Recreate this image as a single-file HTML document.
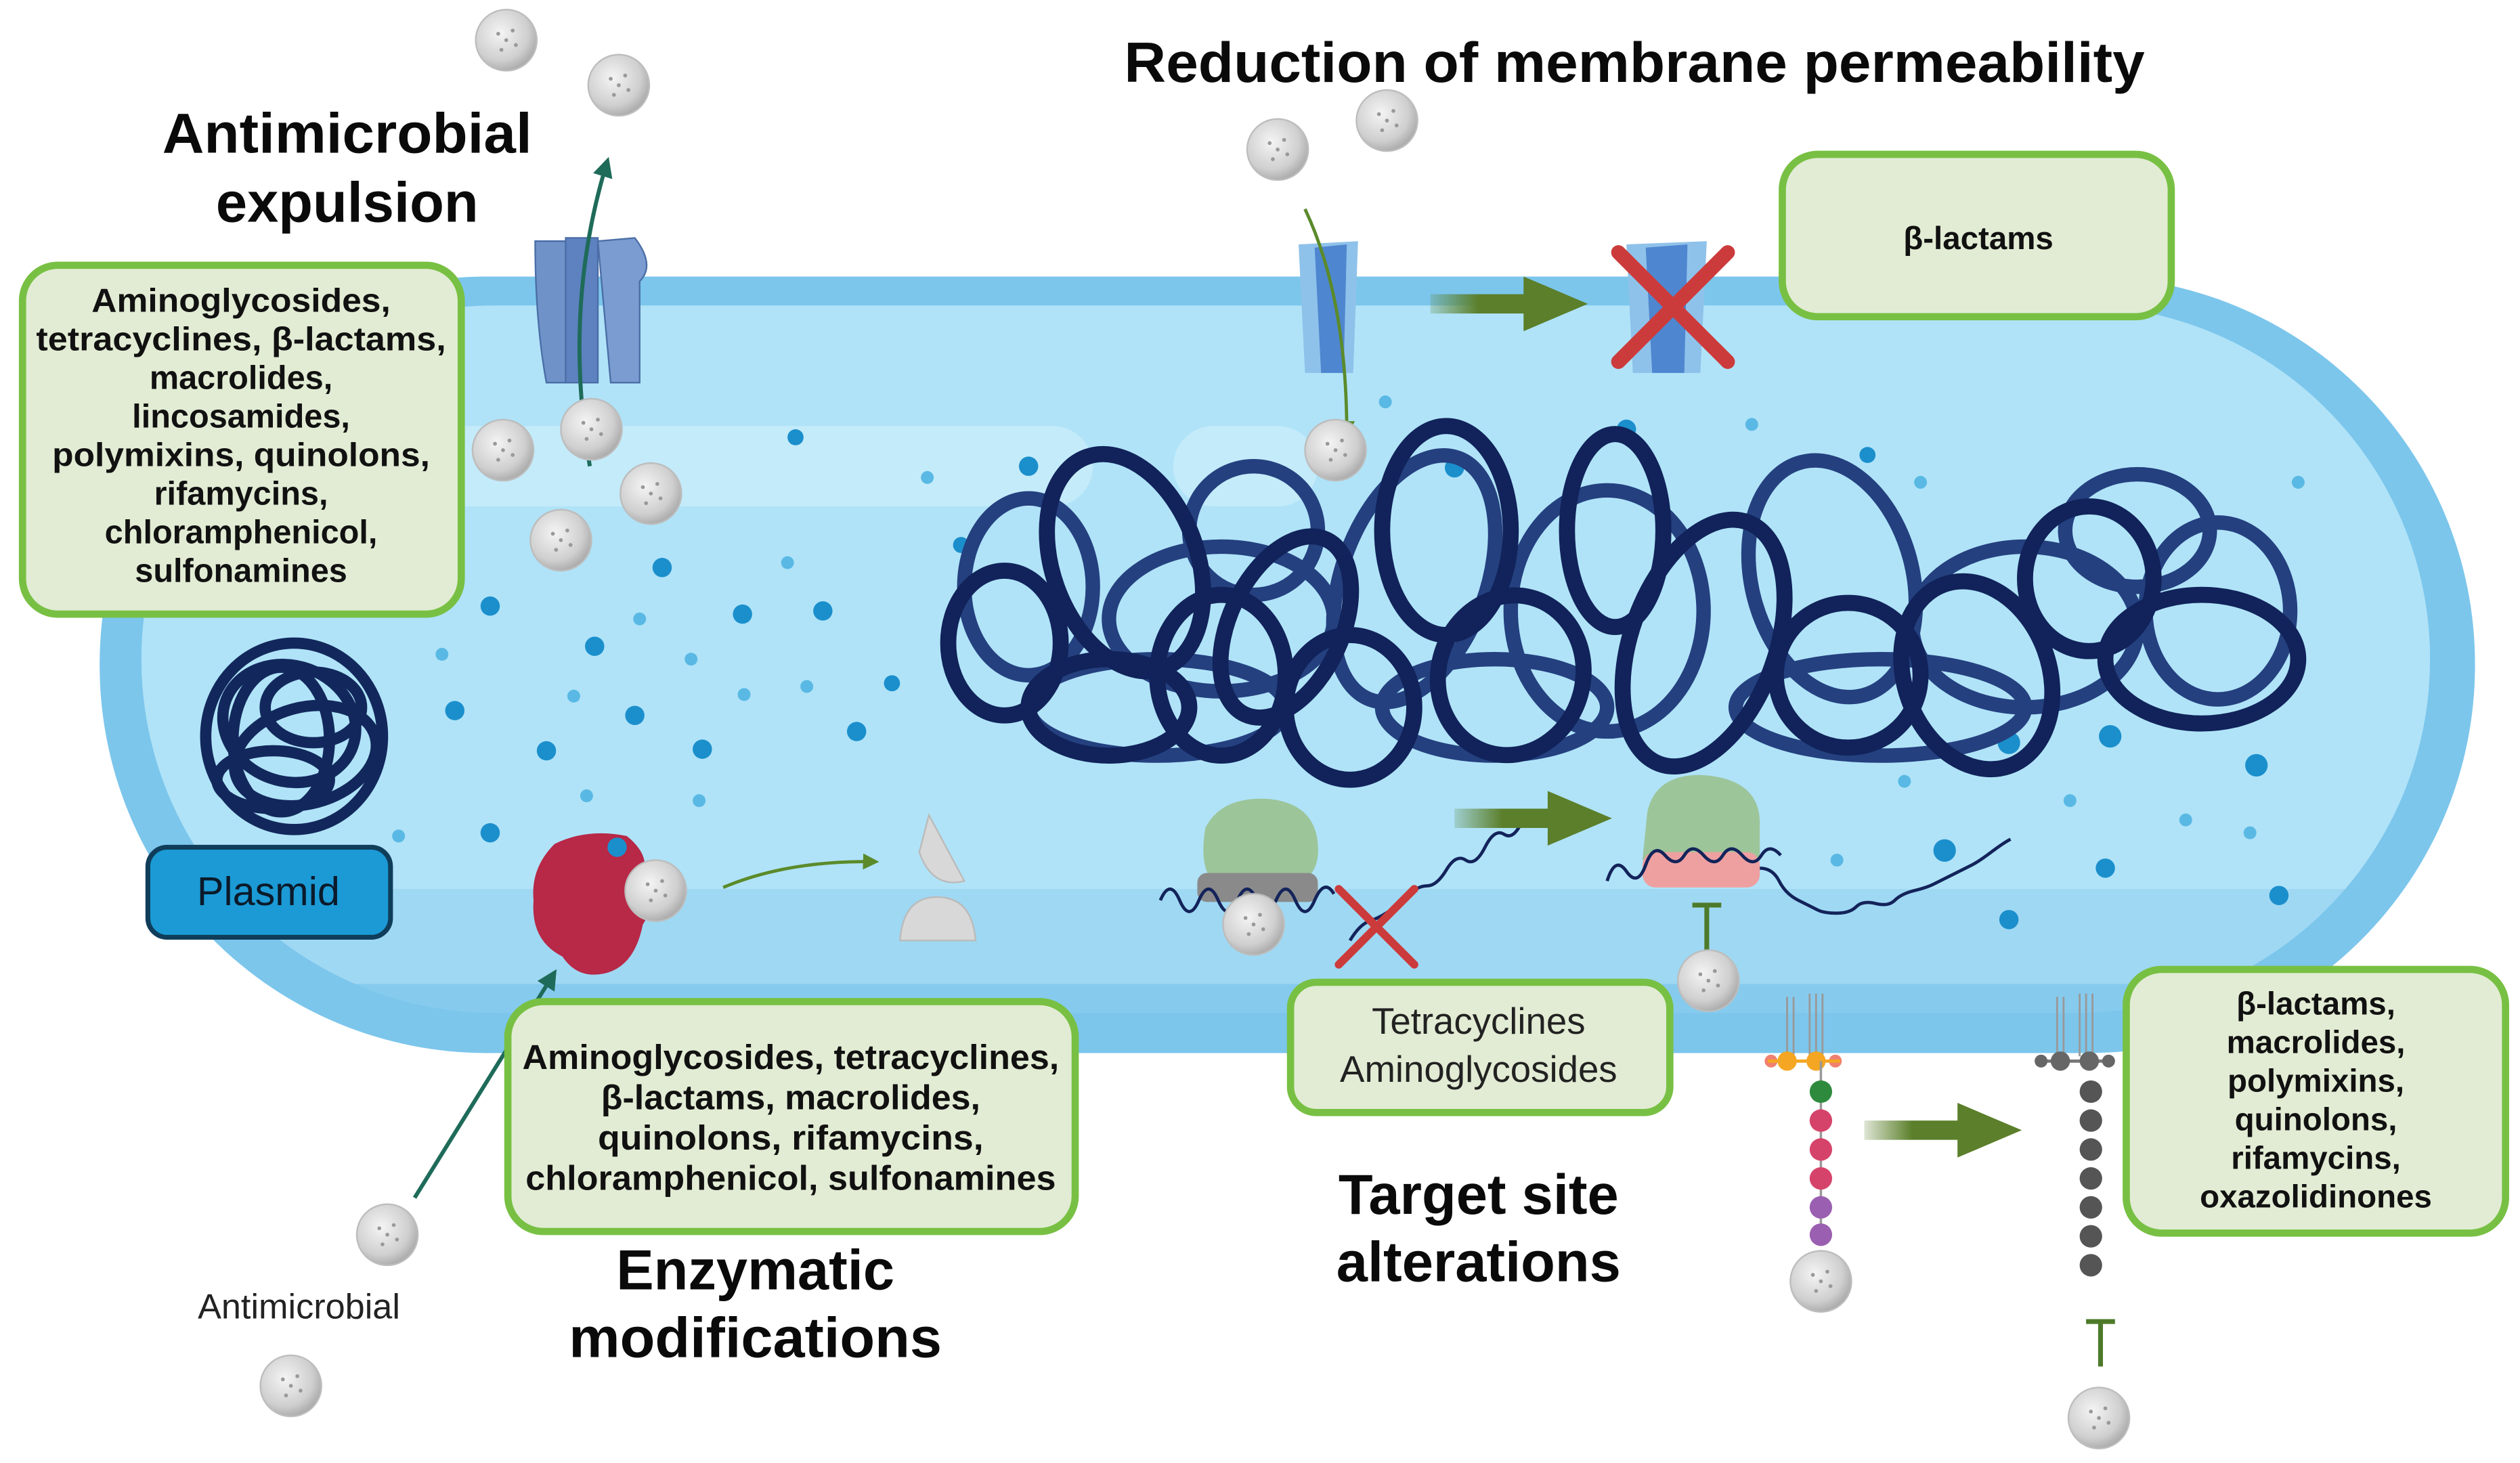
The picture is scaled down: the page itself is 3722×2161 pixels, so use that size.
<!DOCTYPE html>
<html><head><meta charset="utf-8"><style>
html,body{margin:0;padding:0;background:#fff;}
svg{display:block;}
text{font-family:"Liberation Sans",Arial,sans-serif;}
</style></head><body>
<svg width="3722" height="2161" viewBox="0 0 1568 910" preserveAspectRatio="none" xmlns="http://www.w3.org/2000/svg">
<defs>
<radialGradient id="ab" cx="40%" cy="38%" r="65%">
<stop offset="0" stop-color="#f4f4f4"/><stop offset="0.7" stop-color="#cfcfcf"/><stop offset="1" stop-color="#a9a9a9"/>
</radialGradient>
<clipPath id="cin"><rect x="88" y="190" width="1424" height="440" rx="220"/></clipPath>
<linearGradient id="ga" x1="0" x2="1"><stop offset="0" stop-color="#5b7f2a" stop-opacity="0.2"/><stop offset="0.5" stop-color="#5b7f2a"/></linearGradient>
<g id="ball"><circle r="19" fill="url(#ab)" stroke="#bdbdbd" stroke-width="1"/><circle cx="-5" cy="-4" r="1.2" fill="#999"/><circle cx="4" cy="-6" r="1.2" fill="#999"/><circle cx="6" cy="3" r="1.2" fill="#999"/><circle cx="-3" cy="6" r="1.2" fill="#999"/><circle cx="0" cy="0" r="1.2" fill="#999"/></g>
<marker id="ah" viewBox="0 0 10 10" refX="8" refY="5" markerWidth="5" markerHeight="5" orient="auto"><path d="M0,0L10,5L0,10z" fill="#1f6b5a"/></marker>
<marker id="ahg" viewBox="0 0 10 10" refX="8" refY="5" markerWidth="5" markerHeight="5" orient="auto"><path d="M0,0L10,5L0,10z" fill="#5b8a2a"/></marker>
</defs>

<rect x="62" y="172" width="1478" height="483" rx="241" fill="#7cc6ec"/>
<rect x="88" y="190" width="1424" height="440" rx="220" fill="#9fd8f3"/>
<g clip-path="url(#cin)">
<rect x="88" y="190" width="1424" height="363" fill="#b0e3f8"/>
<rect x="80" y="612" width="1450" height="30" fill="#86cbee"/>
</g>
<rect x="230" y="265" width="450" height="50" rx="25" fill="#c4ebfa"/>
<rect x="730" y="265" width="90" height="50" rx="25" fill="#c4ebfa"/>

<g fill="#1b8fcc">
<circle cx="495" cy="272" r="5"/><circle cx="412" cy="353" r="6"/><circle cx="305" cy="377" r="6"/><circle cx="462" cy="382" r="6"/><circle cx="512" cy="380" r="6"/><circle cx="370" cy="402" r="6"/><circle cx="283" cy="442" r="6"/><circle cx="395" cy="445" r="6"/><circle cx="437" cy="466" r="6"/><circle cx="340" cy="467" r="6"/><circle cx="305" cy="518" r="6"/><circle cx="533" cy="455" r="6"/><circle cx="555" cy="425" r="5"/><circle cx="640" cy="290" r="6"/><circle cx="598" cy="339" r="5"/><circle cx="905" cy="291" r="6"/><circle cx="1012" cy="267" r="6"/><circle cx="1162" cy="283" r="5"/><circle cx="1250" cy="462" r="7"/><circle cx="1313" cy="458" r="7"/><circle cx="1404" cy="476" r="7"/><circle cx="1210" cy="529" r="7"/><circle cx="1310" cy="540" r="6"/><circle cx="1250" cy="572" r="6"/><circle cx="1418" cy="557" r="6"/>
</g>
<g fill="#5ab9e4">
<circle cx="577" cy="297" r="4"/><circle cx="357" cy="433" r="4"/><circle cx="275" cy="407" r="4"/><circle cx="430" cy="410" r="4"/><circle cx="463" cy="432" r="4"/><circle cx="502" cy="427" r="4"/><circle cx="398" cy="385" r="4"/><circle cx="490" cy="350" r="4"/><circle cx="365" cy="495" r="4"/><circle cx="248" cy="520" r="4"/><circle cx="435" cy="498" r="4"/><circle cx="862" cy="250" r="4"/><circle cx="1090" cy="264" r="4"/><circle cx="1195" cy="300" r="4"/><circle cx="1430" cy="300" r="4"/><circle cx="1288" cy="498" r="4"/><circle cx="1360" cy="510" r="4"/><circle cx="1185" cy="486" r="4"/><circle cx="1143" cy="535" r="4"/><circle cx="1400" cy="518" r="4"/>
</g>

<g fill="none" stroke-linecap="round">
<g stroke="#24407f" stroke-width="9">
<ellipse cx="640" cy="365" rx="40" ry="55"/>
<ellipse cx="760" cy="385" rx="70" ry="45"/>
<ellipse cx="880" cy="360" rx="45" ry="80" transform="rotate(20 880 360)"/>
<ellipse cx="1000" cy="380" rx="60" ry="75"/>
<ellipse cx="1140" cy="360" rx="50" ry="75" transform="rotate(-15 1140 360)"/>
<ellipse cx="1260" cy="390" rx="70" ry="50"/>
<ellipse cx="1380" cy="380" rx="45" ry="55"/>
<ellipse cx="720" cy="440" rx="80" ry="30"/>
<ellipse cx="930" cy="440" rx="70" ry="30"/>
<ellipse cx="1170" cy="440" rx="90" ry="30"/>
<ellipse cx="1330" cy="330" rx="45" ry="35"/>
<ellipse cx="780" cy="330" rx="40" ry="40"/>
</g>
<g stroke="#11235a" stroke-width="10">
<ellipse cx="625" cy="400" rx="35" ry="45"/>
<ellipse cx="700" cy="350" rx="45" ry="70" transform="rotate(-20 700 350)"/>
<ellipse cx="690" cy="440" rx="50" ry="30"/>
<ellipse cx="800" cy="390" rx="35" ry="60" transform="rotate(25 800 390)"/>
<ellipse cx="900" cy="330" rx="40" ry="65"/>
<ellipse cx="940" cy="420" rx="45" ry="50" transform="rotate(15 940 420)"/>
<ellipse cx="1005" cy="330" rx="30" ry="60"/>
<ellipse cx="1060" cy="400" rx="45" ry="80" transform="rotate(20 1060 400)"/>
<ellipse cx="1150" cy="420" rx="45" ry="45"/>
<ellipse cx="1230" cy="420" rx="45" ry="60" transform="rotate(-20 1230 420)"/>
<ellipse cx="1300" cy="360" rx="40" ry="45"/>
<ellipse cx="1370" cy="410" rx="60" ry="40"/>
<ellipse cx="840" cy="440" rx="40" ry="45"/>
<ellipse cx="760" cy="420" rx="40" ry="50"/>
</g>
</g>

<g fill="none" stroke="#12285c" stroke-width="7">
<ellipse cx="183" cy="458" rx="55" ry="58"/>
<ellipse cx="180" cy="450" rx="42" ry="36" transform="rotate(20 180 450)"/>
<ellipse cx="190" cy="470" rx="45" ry="30" transform="rotate(-15 190 470)"/>
<ellipse cx="175" cy="460" rx="30" ry="45"/>
<ellipse cx="195" cy="440" rx="30" ry="22"/>
<ellipse cx="170" cy="485" rx="35" ry="18"/>
</g>
<rect x="92" y="527" width="151" height="56" rx="12" fill="#1b9ad5" stroke="#0f3d5a" stroke-width="3"/>
<text x="167" y="563" font-size="25" text-anchor="middle" fill="#0b1a2a">Plasmid</text>

<g>
<path d="M333,150 L352,150 L352,238 L340,238 Q333,200 333,150Z" fill="#6f93c9" stroke="#4b6ea7"/>
<path d="M352,148 L372,148 L372,238 L352,238Z" fill="#5d82bf" stroke="#4b6ea7"/>
<path d="M372,150 L395,148 Q408,165 398,175 L398,238 L380,238 L372,150Z" fill="#7b9cd0" stroke="#4b6ea7"/>
</g>
<path d="M367,290 Q350,190 378,100" fill="none" stroke="#1f6b5a" stroke-width="2.5" marker-end="url(#ah)"/>

<g>
<path d="M808,152 L845,150 L842,232 L812,232Z" fill="#8fc2ea"/>
<path d="M818,154 L838,152 L836,232 L822,232Z" fill="#4f86d0"/>
<path d="M1012,152 L1062,150 L1058,232 L1016,232Z" fill="#8fc2ea"/>
<path d="M1024,154 L1050,152 L1048,232 L1028,232Z" fill="#4f86d0"/>
</g>
<path d="M812,130 Q838,185 838,270" fill="none" stroke="#5b8a2a" stroke-width="2" marker-end="url(#ahg)"/>
<rect x="890" y="183" width="60" height="12" fill="url(#ga)"/>
<polygon points="948,172 988,189 948,206" fill="#5b7f2a"/>
<g stroke="#cc3b3b" stroke-width="9" stroke-linecap="round"><line x1="1007" y1="157" x2="1075" y2="225"/><line x1="1075" y1="157" x2="1007" y2="225"/></g>

<path d="M345,525 Q365,515 390,520 Q405,532 400,545 Q410,560 400,575 Q395,600 378,605 Q360,610 350,595 Q330,585 332,560 Q330,540 345,525Z" fill="#b82847"/>
<circle cx="384" cy="527" r="6" fill="#1b8fcc"/>
<use href="#ball" x="408" y="554"/>
<path d="M450,552 Q490,535 545,536" fill="none" stroke="#5b8a2a" stroke-width="2" marker-end="url(#ahg)"/>
<path d="M578,507 L600,548 Q580,553 572,530Z" fill="#d8d8d8" stroke="#bbb"/>
<path d="M560,585 Q562,558 583,558 Q605,558 607,585Z" fill="#d8d8d8" stroke="#bbb"/>
<path d="M258,745 L345,605" fill="none" stroke="#1f6b5a" stroke-width="2.5" marker-end="url(#ah)"/>

<path d="M750,515 Q760,495 790,497 Q818,500 820,525 Q822,548 800,552 L760,552 Q745,545 750,515Z" fill="#9cc59a"/>
<rect x="745" y="543" width="75" height="18" rx="6" fill="#8a8a8a"/>
<path d="M722,560 q6,-14 12,0 t12,0 t12,0 t12,0 t12,0 t12,0 t12,0 t12,0 t12,-4" fill="none" stroke="#13235a" stroke-width="2"/>
<path d="M840,585 q6,-10 12,-12 t12,-6 t12,-10 t12,-6 t12,-10 t12,-6 t12,-8 t12,-8 t12,-10" fill="none" stroke="#13235a" stroke-width="2"/>
<use href="#ball" x="780" y="575"/>
<g stroke="#cc3b3b" stroke-width="5" stroke-linecap="round"><line x1="833" y1="553" x2="880" y2="600"/><line x1="880" y1="553" x2="833" y2="600"/></g>
<rect x="905" y="503" width="60" height="12" fill="url(#ga)"/>
<polygon points="963,492 1003,509 963,526" fill="#5b7f2a"/>
<path d="M1025,505 Q1030,482 1058,482 Q1095,484 1095,512 L1095,535 L1022,535Z" fill="#9cc59a"/>
<rect x="1022" y="530" width="73" height="22" rx="8" fill="#eea0a0"/>
<path d="M1000,548 q5,-16 12,-6 t12,-4 t12,-6 t12,0 t12,0 t12,0 t12,0 t12,0 t12,0" fill="none" stroke="#13235a" stroke-width="2"/>
<path d="M1095,540 q8,0 12,8 t12,12 t12,6 t12,2 t12,-4 t12,-2 t12,-2 t12,-6 t12,-4 t12,-6 t12,-6 t12,-8 t12,-8" fill="none" stroke="#13235a" stroke-width="2"/>
<g stroke="#4d7a2a" stroke-width="3"><line x1="1062" y1="563" x2="1062" y2="592"/><line x1="1053" y1="563" x2="1071" y2="563"/></g>
<use href="#ball" x="1063" y="610"/>

<g stroke="#999" stroke-width="1.2" fill="none">
<path d="M1112,657 V620 M1116,657 V620 M1126,657 V618 M1130,657 V618 M1134,657 V618"/>
<path d="M1280,657 V620 M1284,657 V620 M1294,657 V618 M1298,657 V618 M1302,657 V618"/>
</g>
<circle cx="1102" cy="660" r="4" fill="#f08070"/><circle cx="1112" cy="660" r="6" fill="#f5a623"/><circle cx="1130" cy="660" r="6" fill="#f5a623"/><circle cx="1142" cy="660" r="4" fill="#f08070"/>
<line x1="1100" y1="660" x2="1145" y2="660" stroke="#f5a623" stroke-width="2"/>
<line x1="1133" y1="660" x2="1133" y2="775" stroke="#999" stroke-width="1.5"/>
<g>
<circle cx="1133" cy="679" r="7" fill="#2e8b3e"/>
<circle cx="1133" cy="697" r="7" fill="#d6436a"/><circle cx="1133" cy="715" r="7" fill="#d6436a"/><circle cx="1133" cy="733" r="7" fill="#d6436a"/>
<circle cx="1133" cy="751" r="7" fill="#9a5fb0"/><circle cx="1133" cy="768" r="7" fill="#9a5fb0"/>
</g>
<use href="#ball" x="1133" y="797"/>
<line x1="1268" y1="660" x2="1314" y2="660" stroke="#777" stroke-width="2"/>
<circle cx="1270" cy="660" r="4" fill="#666"/><circle cx="1282" cy="660" r="6" fill="#666"/><circle cx="1300" cy="660" r="6" fill="#666"/><circle cx="1312" cy="660" r="4" fill="#666"/>
<g fill="#555"><circle cx="1301" cy="679" r="7"/><circle cx="1301" cy="697" r="7"/><circle cx="1301" cy="715" r="7"/><circle cx="1301" cy="733" r="7"/><circle cx="1301" cy="751" r="7"/><circle cx="1301" cy="769" r="7"/><circle cx="1301" cy="787" r="7"/></g>
<rect x="1160" y="697" width="60" height="12" fill="url(#ga)"/>
<polygon points="1218,686 1258,703 1218,720" fill="#5b7f2a"/>
<g stroke="#4d7a2a" stroke-width="3"><line x1="1307" y1="822" x2="1307" y2="850"/><line x1="1298" y1="822" x2="1316" y2="822"/></g>
<use href="#ball" x="1306" y="882"/>

<use href="#ball" x="315" y="25"/><use href="#ball" x="385" y="53"/>
<use href="#ball" x="795" y="93"/><use href="#ball" x="863" y="75"/>
<use href="#ball" x="313" y="280"/><use href="#ball" x="368" y="267"/><use href="#ball" x="405" y="307"/><use href="#ball" x="349" y="336"/>
<use href="#ball" x="831" y="280"/>
<use href="#ball" x="241" y="768"/><use href="#ball" x="181" y="862"/>

<g fill="#e2ecd4" stroke="#78c043" stroke-width="4.5">
<rect x="14" y="165" width="273" height="217" rx="22"/>
<rect x="1109" y="96" width="242" height="101" rx="22"/>
<rect x="316" y="623" width="353" height="143" rx="22"/>
<rect x="803" y="611" width="236" height="81" rx="16"/>
<rect x="1323" y="603" width="236" height="164" rx="22"/>
</g>
<g font-weight="bold" font-size="20.5" text-anchor="middle" fill="#111">
<text x="150" y="194" textLength="186" lengthAdjust="spacingAndGlyphs">Aminoglycosides,</text>
<text x="150" y="218" textLength="255" lengthAdjust="spacingAndGlyphs">tetracyclines, β-lactams,</text>
<text x="150" y="242">macrolides,</text>
<text x="150" y="266">lincosamides,</text>
<text x="150" y="290" textLength="235" lengthAdjust="spacingAndGlyphs">polymixins, quinolons,</text>
<text x="150" y="314">rifamycins,</text>
<text x="150" y="338">chloramphenicol,</text>
<text x="150" y="362">sulfonamines</text>
<text x="1231" y="155" font-size="20">β-lactams</text>
</g>
<g font-weight="bold" font-size="21.5" text-anchor="middle" fill="#111">
<text x="492" y="665" textLength="334" lengthAdjust="spacingAndGlyphs">Aminoglycosides, tetracyclines,</text>
<text x="492" y="690" textLength="236" lengthAdjust="spacingAndGlyphs">β-lactams, macrolides,</text>
<text x="492" y="715" textLength="240" lengthAdjust="spacingAndGlyphs">quinolons, rifamycins,</text>
<text x="492" y="740" textLength="330" lengthAdjust="spacingAndGlyphs">chloramphenicol, sulfonamines</text>
</g>
<g font-weight="bold" font-size="20" text-anchor="middle" fill="#111">
<text x="1441" y="631">β-lactams,</text>
<text x="1441" y="655">macrolides,</text>
<text x="1441" y="679">polymixins,</text>
<text x="1441" y="703">quinolons,</text>
<text x="1441" y="727">rifamycins,</text>
<text x="1441" y="751">oxazolidinones</text>
</g>
<g font-size="23" text-anchor="middle" fill="#222">
<text x="920" y="643">Tetracyclines</text>
<text x="920" y="673">Aminoglycosides</text>
</g>

<g font-weight="bold" font-size="35" text-anchor="middle" fill="#0a0a0a">
<text x="1017" y="51" textLength="635" lengthAdjust="spacingAndGlyphs">Reduction of membrane permeability</text>
<text x="216" y="95" textLength="230" lengthAdjust="spacingAndGlyphs">Antimicrobial</text>
<text x="216" y="138">expulsion</text>
<text x="470" y="802">Enzymatic</text>
<text x="470" y="844" textLength="232" lengthAdjust="spacingAndGlyphs">modifications</text>
<text x="920" y="755">Target site</text>
<text x="920" y="797">alterations</text>
</g>
<text x="186" y="820" font-size="22" text-anchor="middle" fill="#222">Antimicrobial</text>
</svg>
</body></html>
